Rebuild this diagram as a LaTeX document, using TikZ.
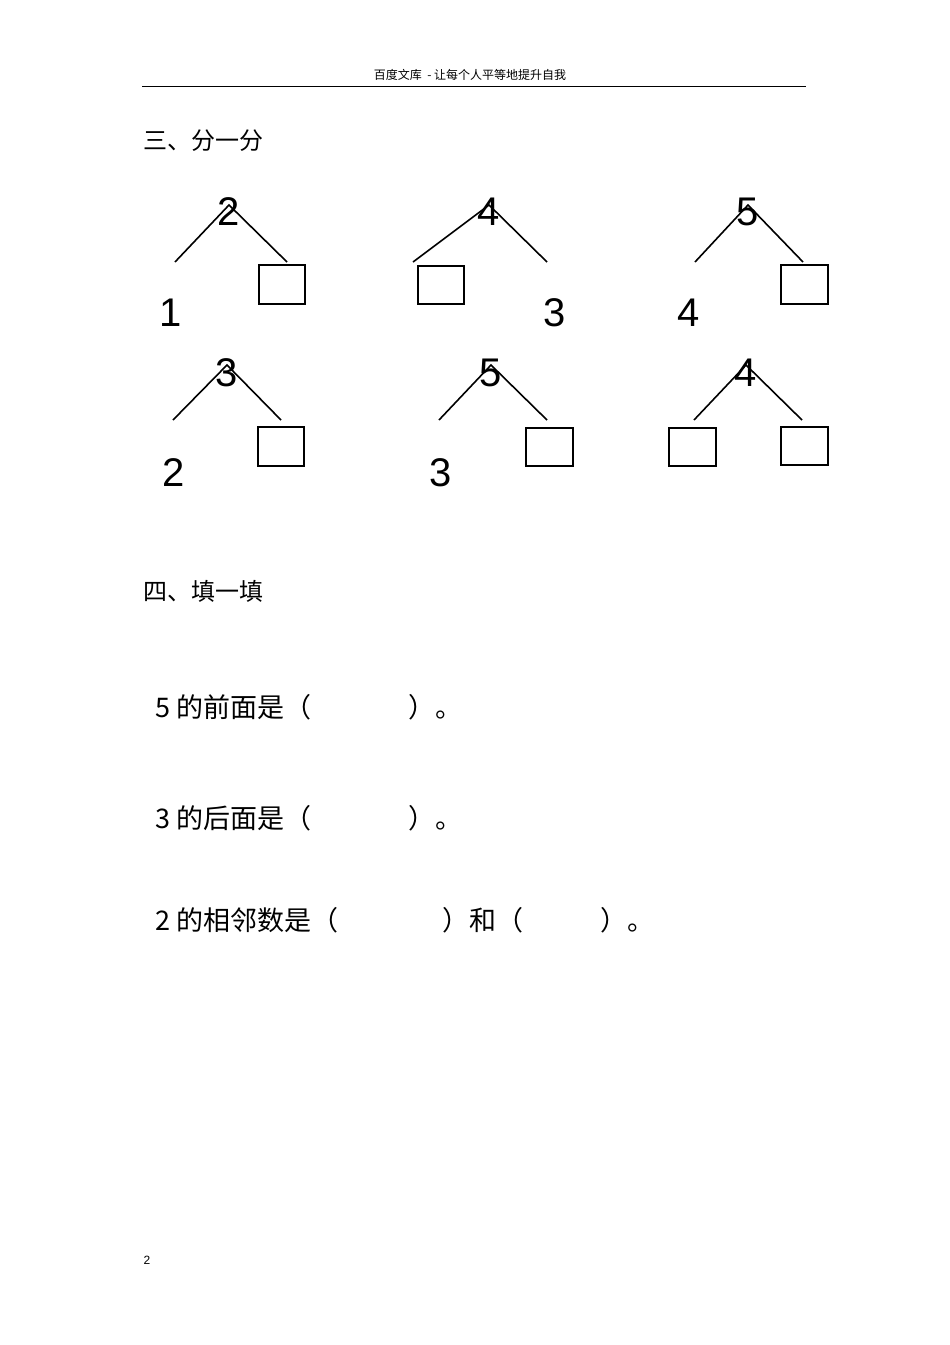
\documentclass[tikz,border=0pt]{standalone}
\usepackage{fontspec}
\setmainfont{Liberation Sans}
\newfontfamily\cjk{Noto Sans CJK SC}
\begin{document}
\begin{tikzpicture}[x=1pt,y=-1pt,
  num/.style={font=\fontsize{40}{40}\selectfont,inner sep=0},
  bx/.style={draw,line width=2.2pt},
  br/.style={line width=1.6pt},
  txt/.style={font=\cjk\fontsize{27}{27}\selectfont,anchor=west,inner sep=0},
  hd/.style={font=\cjk\fontsize{24}{24}\selectfont,anchor=west,inner sep=0}]
\useasboundingbox (0,0) rectangle (950,1345);
\node[font=\cjk\fontsize{12}{12}\selectfont] (hdr) at (470,75) {百度文库\ \ - 让每个人平等地提升自我};
\coordinate (l1) at (142,86); \coordinate (l2) at (806,86);
\draw[line width=0.6pt] (l1) -- (l2);
\node[hd] (s3) at (143,141) {三、分一分};
% tree 1
\node[num] (t1) at (229,212) {2};
\coordinate (a1) at (229,205);
\draw[br] (175,262) -- (a1) -- (287,262);
\draw[bx] (259,265) rectangle (305,304);
\node[num] (b1) at (171,313) {1};
% tree 2
\node[num] (t2) at (489,212) {4};
\coordinate (a2) at (489,205);
\draw[br] (413,262) -- (a2) -- (547,262);
\draw[bx] (418,266) rectangle (464,304);
\node[num] (b2) at (555,313) {3};
% tree 3
\node[num] (t3) at (748,212) {5};
\coordinate (a3) at (748,205);
\draw[br] (695,262) -- (a3) -- (803,262);
\draw[bx] (781,265) rectangle (828,304);
\node[num] (b3) at (689,313) {4};
% tree 4
\node[num] (t4) at (227,373) {3};
\coordinate (a4) at (227,365);
\draw[br] (173,420) -- (a4) -- (281,420);
\draw[bx] (258,427) rectangle (304,466);
\node[num] (b4) at (174,473) {2};
% tree 5
\node[num] (t5) at (491,373) {5};
\coordinate (a5) at (491,365);
\draw[br] (439,420) -- (a5) -- (547,420);
\draw[bx] (526,428) rectangle (573,466);
\node[num] (b5) at (441,473) {3};
% tree 6
\node[num] (t6) at (746,373) {4};
\coordinate (a6) at (746,365);
\draw[br] (694,420) -- (a6) -- (802,420);
\draw[bx] (669,428) rectangle (716,466);
\draw[bx] (781,427) rectangle (828,465);
\node[hd] (s4) at (143,591) {四、填一填};
\node[txt] (q1) at (155,707) {5 的前面是（};
\node[txt] (q1b) at (408,707) {）。};
\node[txt] (q2) at (155,818) {3 的后面是（};
\node[txt] (q2b) at (408,818) {）。};
\node[txt] (q3) at (155,920) {2 的相邻数是（};
\node[txt] (q3b) at (442,920) {）和（};
\node[txt] (q3c) at (600,920) {）。};
\node[font=\fontsize{12}{12}\selectfont] (pg) at (147,1260) {2};
\end{tikzpicture}
\end{document}
